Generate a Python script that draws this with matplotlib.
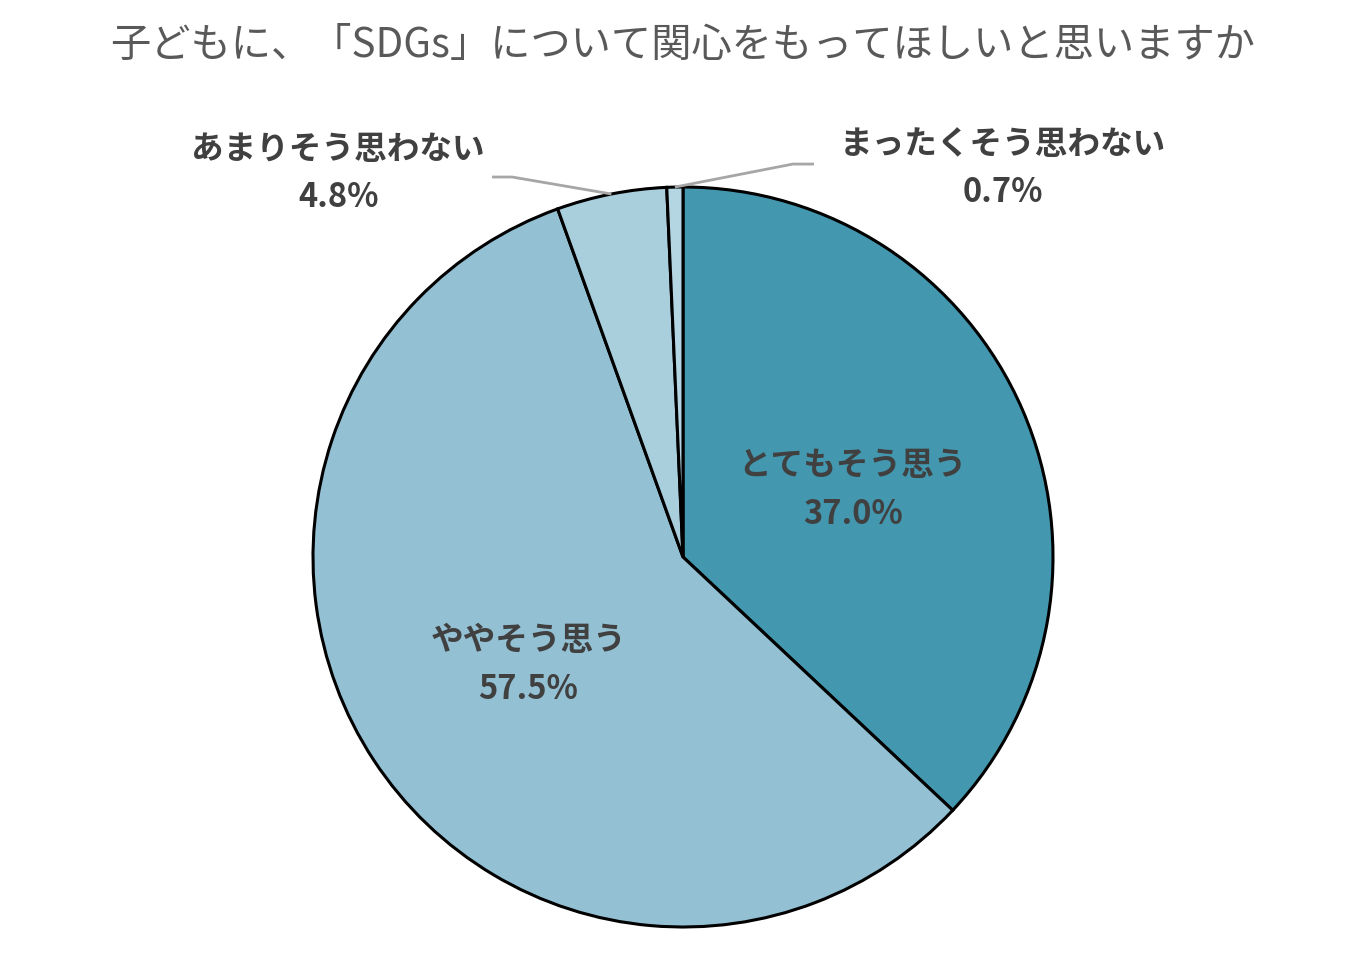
import numpy as np
import matplotlib.pyplot as plt

plt.rcParams['font.family'] = ['Noto Sans CJK JP', 'DejaVu Sans']

title = '子どもに、「SDGs」について関心をもってほしいと思いますか'
labels = ['とてもそう思う', 'ややそう思う', 'あまりそう思わない', 'まったくそう思わない']
values = [37.0, 57.5, 4.8, 0.7]
colors = ['#4397af', '#93c1d3', '#a9cfdc', '#b4d6e2']

fig = plt.figure(figsize=(13.59, 9.55), dpi=100)
# square axes holding the pie (center ~ (683,557) px, radius ~370 px)
ax = fig.add_axes([313 / 1359, 28 / 955, 740 / 1359, 740 / 955])

wedges, _ = ax.pie(values, colors=colors, startangle=90, counterclock=False,
                   wedgeprops=dict(edgecolor='black', linewidth=2.2))
ax.set_xlim(-1, 1); ax.set_ylim(-1, 1)
ax.set_axis_off()

txt_color = '#404040'
lead_color = '#a6a6a6'
fs = 23.5

def mid_angle(w):
    return np.deg2rad((w.theta1 + w.theta2) / 2)

# inside labels for the two big slices
for w, lab, v in zip(wedges[:2], labels[:2], values[:2]):
    a = mid_angle(w)
    x, y = 0.5 * np.cos(a), 0.5 * np.sin(a)
    ax.text(x, y + 0.05, lab, ha='center', va='center', fontsize=fs,
            fontweight='bold', color=txt_color)
    ax.text(x, y - 0.083, f'{v:.1f}%', ha='center', va='center', fontsize=fs,
            fontweight='bold', color=txt_color)

# outside labels with leader lines
outside = [
    # (text centre, elbow, line end)
    ((-0.932, 1.043), (-0.462, 1.027), (-0.516, 1.027)),
    ((0.865, 1.057), (0.297, 1.062), (0.354, 1.062)),
]
for w, lab, v, (tc, elbow, end) in zip(wedges[2:], labels[2:], values[2:], outside):
    a = mid_angle(w)
    px, py = np.cos(a), np.sin(a)
    ax.plot([px, elbow[0], end[0]], [py, elbow[1], end[1]], color=lead_color,
            lw=2, clip_on=False, solid_capstyle='butt')
    ax.text(tc[0], tc[1] + 0.058, lab, ha='center', va='center', fontsize=fs,
            fontweight='bold', color=txt_color)
    ax.text(tc[0], tc[1] - 0.072, f'{v:.1f}%', ha='center', va='center', fontsize=fs,
            fontweight='bold', color=txt_color)

fig.text(683 / 1359, 1 - 45 / 955, title, ha='center', va='center',
         fontsize=29, color='#595959')

plt.savefig('out.png', dpi=100)
plt.close()
